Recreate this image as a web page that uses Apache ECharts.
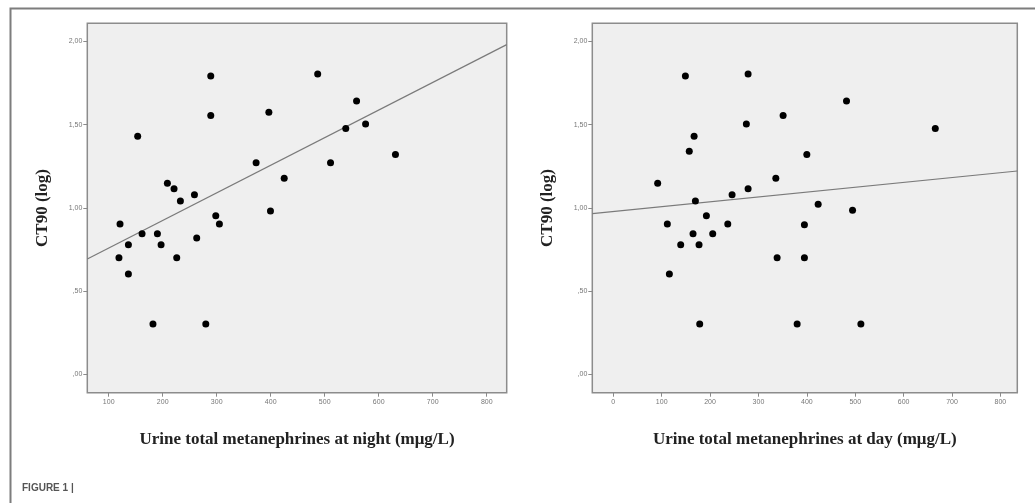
<!DOCTYPE html>
<html>
<head>
<meta charset="utf-8">
<script src="https://cdn.jsdelivr.net/npm/echarts@6/dist/echarts.min.js"></script>
<style>
html,body{margin:0;padding:0;background:#fff;}
#chart{width:1035px;height:503px;}
</style>
</head>
<body>
<div id="chart"></div>
<script>
// ---- data ----
var nightPoints = [
  [289,1.792],[487,1.804],[559,1.643],[396.6,1.575],[289,1.555],[575.7,1.505],
  [539,1.477],[153.7,1.431],[631,1.321],[373,1.271],[510.8,1.271],[425,1.178],
  [208.7,1.148],[221,1.116],[258.8,1.080],[232.8,1.042],[399.6,0.982],[298.3,0.954],
  [305,0.904],[121,0.904],[161.8,0.846],[190.2,0.846],[263,0.820],[136.5,0.780],
  [197,0.780],[119,0.701],[226,0.701],[136.5,0.603],[182,0.303],[279.8,0.303]
];
var dayPoints = [
  [149,1.792],[278.6,1.804],[482,1.643],[351,1.555],[275,1.505],[665.5,1.477],
  [167,1.431],[157,1.341],[400,1.321],[91.7,1.148],[335.9,1.178],[278.6,1.116],
  [245.5,1.080],[169.7,1.042],[423.4,1.022],[494.5,0.986],[192.4,0.954],[111.7,0.904],
  [236.6,0.904],[395,0.900],[164.8,0.846],[205.5,0.846],[139.3,0.780],[177.2,0.780],
  [338.6,0.701],[395,0.701],[115.9,0.603],[178.6,0.303],[380,0.303],[511.7,0.303]
];
var nightFit = [[60.4,0.694],[837,1.981]];
var dayFit = [[-43.4,0.966],[835,1.222]];
var nightXTicks = [100,200,300,400,500,600,700,800];
var dayXTicks = [0,100,200,300,400,500,600,700,800];
var yTicks = [0,0.5,1,1.5,2];
var yTitle = 'CT90 (log)';
var nightXTitle = 'Urine total metanephrines at night (m\u03bcg/L)';
var dayXTitle = 'Urine total metanephrines at day (m\u03bcg/L)';
var caption = 'FIGURE 1 |';

// ---- chart ----
function fmtY(v){
  var s = Number(v).toFixed(2).replace('.', ',');
  if (s.indexOf('0,') === 0) s = s.substring(1);
  return s;
}
var tickStyle = {color:'#8a8a8a', width:1};
var labStyle = {fontSize:7, color:'#777', fontFamily:'Liberation Sans'};
var nameStyle = {fontSize:17, fontWeight:'bold', color:'#222', fontFamily:'Liberation Serif'};

function xAxis(idx, min, max, ticks, title){
  return {
    type:'value', gridIndex:idx, min:min, max:max, position:'bottom',
    axisLine:{show:false, onZero:false},
    splitLine:{show:false},
    axisTick:{show:true, inside:false, length:4, lineStyle:tickStyle, customValues:ticks},
    axisLabel:Object.assign({customValues:ticks, margin:6, formatter:function(v){return String(Math.round(v));}}, labStyle),
    name:title, nameLocation:'middle', nameGap:38, nameTextStyle:nameStyle
  };
}
function yAxis(idx){
  return {
    type:'value', gridIndex:idx, min:-0.109, max:2.109, position:'left',
    axisLine:{show:false, onZero:false},
    splitLine:{show:false},
    axisTick:{show:true, inside:false, length:4, lineStyle:tickStyle, customValues:yTicks},
    axisLabel:Object.assign({customValues:yTicks, margin:5, formatter:fmtY}, labStyle),
    name:yTitle, nameLocation:'middle', nameGap:36, nameRotate:90, nameTextStyle:nameStyle
  };
}

var chart = echarts.init(document.getElementById('chart'), null, {renderer:'canvas'});
chart.setOption({
  animation:false,
  backgroundColor:'#ffffff',
  grid:[
    {left:87.3, top:23.3, width:419.4, height:369.4, show:true, backgroundColor:'#efefef', borderColor:'#8c8c8c', borderWidth:1.5},
    {left:592.3, top:23.3, width:425, height:369.4, show:true, backgroundColor:'#efefef', borderColor:'#8c8c8c', borderWidth:1.5}
  ],
  xAxis:[
    xAxis(0, 60.4, 837, nightXTicks, nightXTitle),
    xAxis(1, -43.4, 835, dayXTicks, dayXTitle)
  ],
  yAxis:[yAxis(0), yAxis(1)],
  series:[
    {type:'line', xAxisIndex:0, yAxisIndex:0, data:nightFit, symbol:'none',
     lineStyle:{color:'#7a7a7a', width:1.2}, silent:true, z:2},
    {type:'line', xAxisIndex:1, yAxisIndex:1, data:dayFit, symbol:'none',
     lineStyle:{color:'#7a7a7a', width:1.2}, silent:true, z:2},
    {type:'scatter', xAxisIndex:0, yAxisIndex:0, data:nightPoints, symbol:'circle', symbolSize:7,
     itemStyle:{color:'#000', opacity:1}, z:3},
    {type:'scatter', xAxisIndex:1, yAxisIndex:1, data:dayPoints, symbol:'circle', symbolSize:7,
     itemStyle:{color:'#000', opacity:1}, z:3}
  ],
  graphic:[
    {type:'rect', left:8, top:6, shape:{x:0,y:0,width:1100,height:600},
     style:{fill:'none', stroke:'#7d7d7d', lineWidth:2}, silent:true, z:-1},
    {type:'text', left:22, top:483, style:{text:caption, fontSize:10, fontWeight:'bold',
     fill:'#555', fontFamily:'Liberation Sans'}}
  ]
});
</script>
</body>
</html>
